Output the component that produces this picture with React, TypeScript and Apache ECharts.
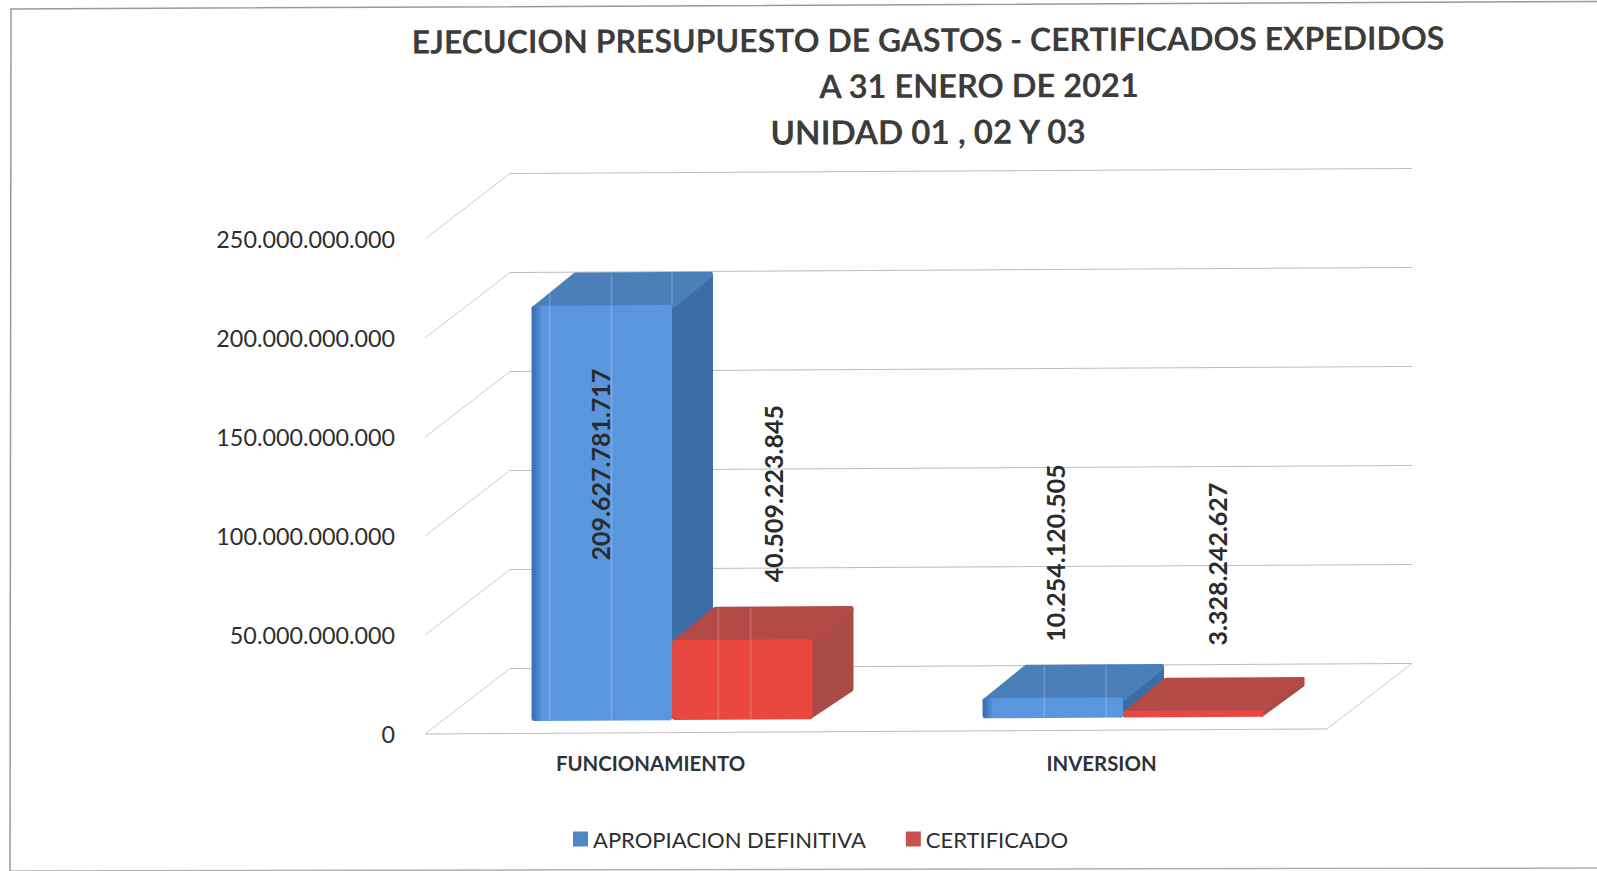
import React, { useEffect, useRef } from "react";
import * as echarts from "echarts";

const categories = ["FUNCIONAMIENTO", "INVERSION"];
const apropiacion = [209627781717, 10254120505];
const certificado = [40509223845, 3328242627];
const axisTicks = [0, 50000000000, 100000000000, 150000000000, 200000000000, 250000000000];
const titleLines = [
  "EJECUCION PRESUPUESTO DE GASTOS - CERTIFICADOS EXPEDIDOS",
  "A 31 ENERO DE 2021",
  "UNIDAD 01 , 02 Y 03",
];
const seriesNames = ["APROPIACION DEFINITIVA", "CERTIFICADO"];

// layout
const FONT = "Lato, 'Open Sans', sans-serif";
const GRID_LEFT = 425;
const SKEW = 0.0056; // the scanned page is very slightly tilted
const WALL_DX = 85;
const WALL_DY = -65;
const BAR_SHIFT_X = 21.5;
const BAR_SHIFT_Y = -12.5;
const BAR_DX = 41;
const BAR_DY = -33;
const BAR_WIDTH = 140.5;
const apropiacionLabelNudge = [[-2, 255], [2, -56]];
const certificadoLabelNudge = [[31, -57], [24, -65]];
const apropiacionSheen = [[0.13, 0.57, 1.0], [0.44, 0.88]];
const certificadoSheen = [[0.33, 0.56], []];

const fmt = (v: number) => String(Math.round(v)).replace(/\B(?=(\d{3})+(?!\d))/g, ".");
const sk = (x: number, y: number) => [x, y - SKEW * (x - GRID_LEFT)];

function face(points: number[][], fill: any, w: number) {
  return {
    type: "polygon",
    shape: { points: points.map((p) => sk(p[0], p[1])) },
    style: { fill, stroke: fill, lineWidth: w, lineJoin: "round" },
  };
}

function barRenderer(
  side: -1 | 1,
  frontFill: any,
  topFill: any,
  sideFill: any,
  nudge: number[][],
  sheenStops: number[][],
) {
  return (params: any, api: any) => {
    const cat = api.value(0);
    const val = api.value(1);
    const base = api.coord([cat, 0]);
    const top = api.coord([cat, val]);
    const x0 = base[0] + BAR_SHIFT_X + (side < 0 ? -BAR_WIDTH : 0);
    const x1 = x0 + BAR_WIDTH;
    const yb = base[1] + BAR_SHIFT_Y;
    const yt = top[1] + BAR_SHIFT_Y;
    const h = yb - yt;
    const w = Math.min(6, h * 0.5); // width of the round stroke = corner radius * 2
    const i = w / 2;
    const sheen = sheenStops[params.dataIndex].map((f) => {
      const x = x0 + f * BAR_WIDTH;
      const upper = yt + BAR_DY * Math.min(1, (f * BAR_WIDTH) / BAR_DX) + 1;
      const lower = f >= 1 ? yt : yb - 1;
      const a = sk(x, upper);
      const b = sk(x, lower);
      return {
        type: "line",
        shape: { x1: a[0], y1: a[1], x2: b[0], y2: b[1] },
        style: { stroke: "rgba(255,255,255,0.16)", lineWidth: 2 },
      };
    });
    const [nx, ny] = nudge[params.dataIndex];
    const labelPos = sk((x0 + x1) / 2 + nx, yt + ny);
    return {
      type: "group",
      children: [
        face(
          [
            [x1 - i, yb - i],
            [x1 + BAR_DX - i, yb + BAR_DY + i],
            [x1 + BAR_DX - i, yt + BAR_DY + i],
            [x1 - i, yt + i],
          ],
          sideFill,
          w,
        ),
        face(
          [
            [x0 + i, yt + i],
            [x0 + BAR_DX + i, yt + BAR_DY + i],
            [x1 + BAR_DX - i, yt + BAR_DY + i],
            [x1 - i, yt + i],
          ],
          topFill,
          w,
        ),
        face(
          [
            [x0 + i, yb - i],
            [x0 + i, yt + i],
            [x1 - i, yt + i],
            [x1 - i, yb - i],
          ],
          frontFill,
          w,
        ),
        ...sheen,
        {
          type: "text",
          x: labelPos[0],
          y: labelPos[1],
          rotation: Math.PI / 2,
          z2: 10,
          style: {
            text: fmt(val),
            textAlign: "left",
            textVerticalAlign: "middle",
            fill: "#2b2b2b",
            font: `700 25px ${FONT}`,
          },
        },
      ],
    };
  };
}

function wallRenderer(params: any, api: any) {
  const tick = api.value(1);
  const y = api.coord([0, tick])[1];
  const xl = GRID_LEFT;
  const xr = params.coordSys.x + params.coordSys.width;
  const seg = (xa: number, ya: number, xb: number, yb: number, stroke = "#cdcdcd") => {
    const a = sk(xa, ya);
    const b = sk(xb, yb);
    return {
      type: "line",
      shape: { x1: a[0], y1: a[1], x2: b[0], y2: b[1] },
      style: { stroke, lineWidth: 1 },
    };
  };
  const children: any[] = [
    seg(xl, y, xl + WALL_DX, y + WALL_DY),
    seg(xl + WALL_DX, y + WALL_DY, xr + WALL_DX, y + WALL_DY, "#bdbdbd"),
  ];
  if (tick === 0) {
    children.push(seg(xl, y, xr, y, "#bdbdbd"));
    children.push(seg(xr, y, xr + WALL_DX, y + WALL_DY));
  }
  return { type: "group", children };
}

const v = (a: string, b: string) => ({
  type: "linear",
  x: 0,
  y: 0,
  x2: 1,
  y2: 0,
  colorStops: [
    { offset: 0, color: a },
    { offset: 0.06, color: b },
    { offset: 1, color: b },
  ],
});

export default function App() {
  const ref = useRef<HTMLDivElement>(null);
  useEffect(() => {
    document.body.style.margin = "0";
    const chart = echarts.init(ref.current!, null, { renderer: "svg" });
    const titleAt = (i: number, x: number, y: number, size: number) => ({
      type: "text",
      x,
      y,
      rotation: 0.0045,
      style: {
        text: titleLines[i],
        textAlign: "center",
        textVerticalAlign: "middle",
        fill: "#3c3c3c",
        font: `700 ${size}px ${FONT}`,
      },
    });
    chart.setOption({
      animation: false,
      backgroundColor: "#ffffff",
      textStyle: { fontFamily: FONT },
      grid: { left: GRID_LEFT, top: 239, width: 902, height: 495, containLabel: false },
      legend: {
        data: seriesNames,
        left: 568,
        top: 823,
        icon: "rect",
        itemWidth: 15,
        itemHeight: 15,
        itemGap: 40,
        textStyle: { fontFamily: FONT, fontSize: 22, color: "#2e2e2e" },
      },
      xAxis: {
        type: "category",
        data: categories,
        axisLine: { show: false },
        axisTick: { show: false },
        splitLine: { show: false },
        axisLabel: {
          margin: 19,
          color: "#2e3338",
          fontFamily: FONT,
          fontWeight: 700,
          fontSize: 20.4,
        },
      },
      yAxis: {
        type: "value",
        min: 0,
        max: 250000000000,
        interval: 50000000000,
        axisLine: { show: false },
        axisTick: { show: false },
        splitLine: { show: false },
        axisLabel: {
          margin: 30,
          color: "#2e2e2e",
          fontFamily: FONT,
          fontSize: 23.3,
          formatter: (val: number) => fmt(val),
        },
      },
      series: [
        {
          name: "walls",
          type: "custom",
          silent: true,
          z: 1,
          clip: false,
          renderItem: wallRenderer,
          encode: { x: 0, y: 1 },
          data: axisTicks.map((t) => [0, t]),
        },
        {
          name: seriesNames[0],
          type: "custom",
          z: 2,
          clip: false,
          itemStyle: { color: "#4f86c6" },
          renderItem: barRenderer(-1, v("#3f74b8", "#5a96de"), "#4a7fb9", v("#2f5f98", "#3c6da6"), apropiacionLabelNudge, apropiacionSheen),
          encode: { x: 0, y: 1 },
          data: apropiacion.map((val, i) => [i, val]),
        },
        {
          name: seriesNames[1],
          type: "custom",
          z: 3,
          clip: false,
          itemStyle: { color: "#c9504c" },
          renderItem: barRenderer(1, v("#dd4a42", "#e9473f"), "#b44a46", v("#9f4442", "#a94a47"), certificadoLabelNudge, certificadoSheen),
          encode: { x: 0, y: 1 },
          data: certificado.map((val, i) => [i, val]),
        },
      ],
      graphic: [
        titleAt(0, 928, 39, 32),
        titleAt(1, 979, 85, 32.6),
        titleAt(2, 928, 131, 33.2),
        {
          type: "polyline",
          silent: true,
          shape: { points: [[1597, 1.5], [11, 9], [10, 871]] },
          style: { fill: "none", stroke: "#9a9a9a", lineWidth: 1.5 },
        },
        {
          type: "line",
          silent: true,
          shape: { x1: 10, y1: 871, x2: 1597, y2: 868 },
          style: { stroke: "#b0b0b0", lineWidth: 1.5 },
        },
      ],
    });
    return () => chart.dispose();
  }, []);
  return <div ref={ref} style={{ width: 1597, height: 871 }} />;
}
